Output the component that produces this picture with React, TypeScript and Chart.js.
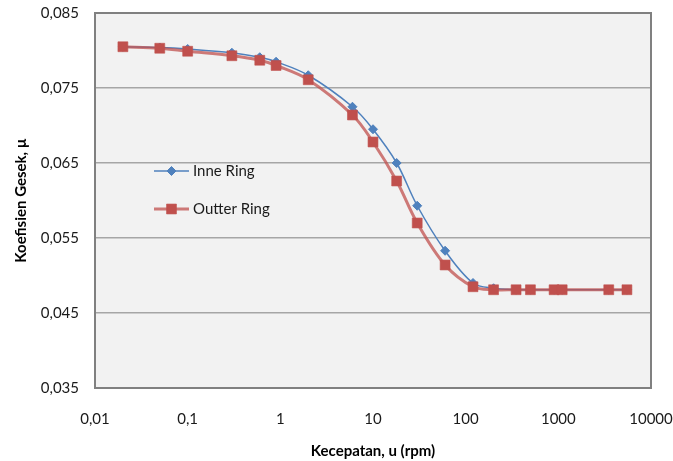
import React, { useEffect, useRef } from 'react';
import { Chart, registerables } from 'chart.js';
import { drawPoint } from 'chart.js/helpers';

Chart.register(...registerables);

// ---- data ----
const speeds = [0.02, 0.05, 0.1, 0.3, 0.6, 0.9, 2, 6, 10, 18, 30, 60, 120, 200, 350, 500, 900, 1100, 3500, 5500];
const innerRing = [0.0805, 0.0804, 0.0802, 0.0797, 0.0791, 0.0785, 0.0767, 0.0725, 0.0695, 0.065, 0.0593, 0.0533, 0.049, 0.0483, 0.0481, 0.0481, 0.0481, 0.0481, 0.0481, 0.0481];
const outerRing = [0.0805, 0.0803, 0.0799, 0.0793, 0.0787, 0.078, 0.0761, 0.0714, 0.0678, 0.0626, 0.057, 0.0514, 0.0485, 0.0481, 0.0481, 0.0481, 0.0481, 0.0481, 0.0481, 0.0481];
const seriesNames = ['Inne Ring', 'Outter Ring'];
const xTickValues = [0.01, 0.1, 1, 10, 100, 1000, 10000];
const xTickLabels = ['0,01', '0,1', '1', '10', '100', '1000', '10000'];
const yMin = 0.035;
const yMax = 0.085;
const yStep = 0.01;
const xTitle = 'Kecepatan, u (rpm)';
const yTitle = 'Koefisien Gesek, µ';

const FONT = 'Lato';
const BLUE = '#4F81BD';
const RED = '#C0504D';

const decorPlugin = {
  id: 'decor',
  beforeDraw(chart: any) {
    const { ctx, chartArea: a } = chart;
    ctx.save();
    ctx.fillStyle = '#ffffff';
    ctx.fillRect(0, 0, chart.width, chart.height);
    ctx.fillStyle = '#f2f2f2';
    ctx.fillRect(a.left, a.top, a.right - a.left, a.bottom - a.top);
    ctx.restore();
  },
  afterDraw(chart: any) {
    const { ctx, chartArea: a } = chart;
    ctx.save();
    ctx.strokeStyle = '#808080';
    ctx.lineWidth = 2;
    ctx.strokeRect(a.left, a.top, a.right - a.left, a.bottom - a.top);

    // legend inside plot area
    const lx0 = a.left + 59;
    const lx1 = a.left + 94;
    const rows = [a.top + 158, a.top + 196];
    chart.data.datasets.forEach((ds: any, i: number) => {
      const y = rows[i];
      ctx.strokeStyle = ds.borderColor;
      ctx.lineWidth = ds.borderWidth;
      ctx.beginPath();
      ctx.moveTo(lx0, y);
      ctx.lineTo(lx1, y);
      ctx.stroke();
      ctx.fillStyle = ds.pointBackgroundColor;
      ctx.strokeStyle = ds.pointBorderColor;
      ctx.lineWidth = 1;
      drawPoint(ctx, { pointStyle: ds.pointStyle, radius: ds.pointRadius, borderWidth: 1, rotation: 0 } as any, (lx0 + lx1) / 2, y);
      ctx.fillStyle = '#1a1a1a';
      ctx.font = `15px ${FONT}`;
      ctx.textBaseline = 'middle';
      ctx.textAlign = 'left';
      ctx.fillText(ds.label, lx1 + 4, y);
    });
    ctx.restore();
  },
};

export default function App() {
  const ref = useRef<HTMLCanvasElement | null>(null);
  useEffect(() => {
    if (!ref.current) return;
    const chart = new Chart(ref.current, {
      type: 'line',
      data: {
        datasets: [
          {
            label: seriesNames[0],
            data: speeds.map((x, i) => ({ x, y: innerRing[i] })),
            borderColor: BLUE,
            backgroundColor: BLUE,
            pointBackgroundColor: BLUE,
            pointBorderColor: BLUE,
            borderWidth: 1.5,
            pointStyle: 'rectRot',
            pointRadius: 4.5,
            pointBorderWidth: 1,
            tension: 0.35,
            order: 2,
          },
          {
            label: seriesNames[1],
            data: speeds.map((x, i) => ({ x, y: outerRing[i] })),
            borderColor: 'rgba(192,80,77,0.75)',
            backgroundColor: RED,
            pointBackgroundColor: RED,
            pointBorderColor: 'rgba(192,80,77,0.6)',
            borderWidth: 3,
            pointStyle: 'rect',
            pointRadius: 7,
            pointBorderWidth: 1,
            tension: 0.35,
            order: 1,
          },
        ] as any,
      },
      options: {
        animation: false,
        responsive: false,
        maintainAspectRatio: false,
        layout: { padding: { top: 13, right: 22, left: 0, bottom: 0 } },
        plugins: { legend: { display: false }, tooltip: { enabled: false } },
        scales: {
          x: {
            type: 'logarithmic',
            min: xTickValues[0],
            max: xTickValues[xTickValues.length - 1],
            afterBuildTicks: (scale: any) => {
              scale.ticks = xTickValues.map((v) => ({ value: v }));
            },
            afterFit: (scale: any) => {
              scale.height = 73;
            },
            grid: { display: true, drawOnChartArea: false, drawTicks: true, tickLength: 22, tickColor: 'rgba(0,0,0,0)', color: 'rgba(0,0,0,0)' },
            border: { display: false },
            ticks: {
              autoSkip: false,
              maxRotation: 0,
              padding: 0,
              color: '#1a1a1a',
              font: { family: FONT, size: 15 },
              callback: (v: any) => {
                const idx = xTickValues.findIndex((t) => Math.abs(t - Number(v)) < t * 1e-6);
                return idx >= 0 ? xTickLabels[idx] : '';
              },
            },
            title: {
              display: true,
              text: xTitle,
              color: '#000',
              font: { family: FONT, size: 15, weight: 'bold' },
              padding: { top: 0, bottom: 1 },
            },
          },
          y: {
            type: 'linear',
            min: yMin,
            max: yMax,
            afterFit: (scale: any) => {
              scale.width = 95;
            },
            grid: { color: '#a6a6a6', lineWidth: 1.5, drawTicks: true, tickLength: 16, tickColor: 'rgba(0,0,0,0)' },
            border: { display: false },
            ticks: {
              stepSize: yStep,
              padding: 0,
              color: '#1a1a1a',
              font: { family: FONT, size: 15 },
              callback: (v: any) => Number(v).toFixed(3).replace('.', ','),
            },
            title: {
              display: true,
              text: yTitle,
              color: '#000',
              font: { family: FONT, size: 15, weight: 'bold' },
              padding: { top: 12, bottom: 0 },
            },
          },
        },
      } as any,
      plugins: [decorPlugin],
    });
    return () => chart.destroy();
  }, []);
  return (
    <div style={{ position: 'absolute', left: 0, top: 0, width: 673, height: 461 }}>
      <canvas ref={ref} width={673} height={461} />
    </div>
  );
}
